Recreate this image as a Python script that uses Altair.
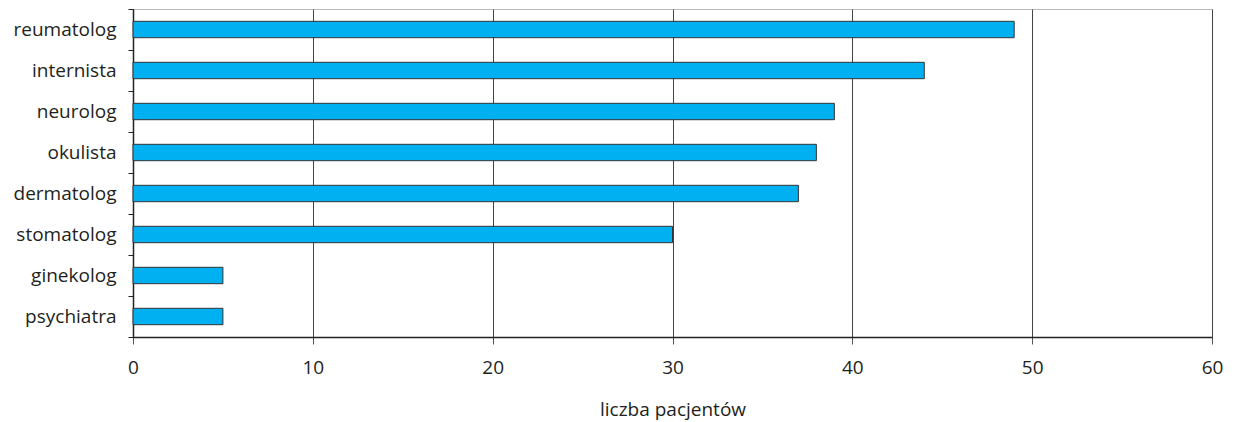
import altair as alt
import pandas as pd

# Number of patients per specialist
specialists = ["reumatolog", "internista", "neurolog", "okulista",
               "dermatolog", "stomatolog", "ginekolog", "psychiatra"]
patients = [49, 44, 39, 38, 37, 30, 5, 5]

df = pd.DataFrame({"specjalista": specialists, "pacjenci": patients})

FONT = "Open Sans"
TEXT = "#231f20"

bars = alt.Chart(df).mark_bar(
    color="#00b0f0", stroke="#333333", strokeWidth=1,
    height={"band": 0.4},
).encode(
    x=alt.X(
        "pacjenci:Q",
        scale=alt.Scale(domain=[0, 60], nice=False),
        axis=alt.Axis(
            values=[0, 10, 20, 30, 40, 50, 60],
            title="liczba pacjentów",
            grid=True, gridColor="#444444", gridWidth=1,
            domainColor="#222222", domainWidth=1.5,
            tickColor="#555555", tickSize=7,
            labelFlush=False,
            labelFontSize=19, labelColor=TEXT, labelFont=FONT,
            labelPadding=14,
            titleFontSize=19, titleColor=TEXT, titleFont=FONT,
            titleFontWeight="normal", titlePadding=23,
        ),
    ),
    y=alt.Y(
        "specjalista:N",
        sort=specialists,
        scale=alt.Scale(paddingInner=0, paddingOuter=0),
        axis=alt.Axis(
            title=None,
            tickBand="extent",
            domainColor="#222222", domainWidth=1.5,
            tickColor="#222222", tickSize=5,
            labelFontSize=19, labelColor=TEXT, labelFont=FONT,
            labelPadding=12,
        ),
    ),
)

chart = bars.properties(
    width=1079, height=328,
    autosize=alt.AutoSizeParams(type="none"),
    padding={"left": 133, "top": 9, "right": 22, "bottom": 85},
).configure_view(stroke="#bbbbbb", strokeWidth=1)

chart.save("out.html", embed_options={"renderer": "svg", "actions": False})
